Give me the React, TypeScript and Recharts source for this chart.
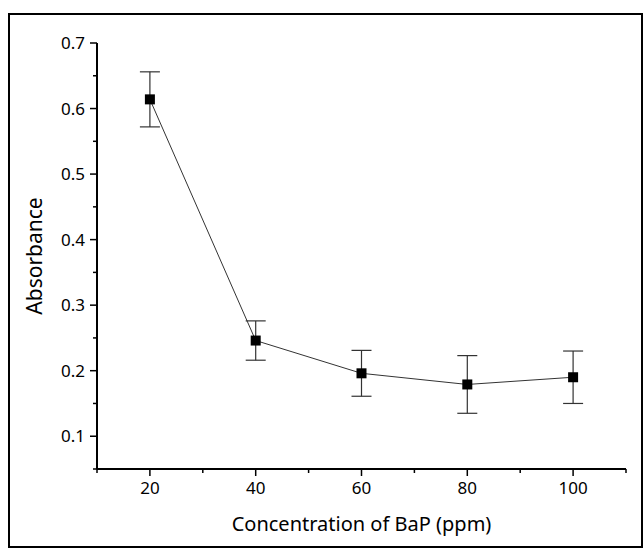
import { ComposedChart, Line, XAxis, YAxis, ErrorBar } from 'recharts';

const concentration = [20, 40, 60, 80, 100];
const absorbance = [0.614, 0.246, 0.196, 0.179, 0.19];
const absorbanceErr = [0.042, 0.03, 0.035, 0.044, 0.04];

const xMajor = [20, 40, 60, 80, 100];
const xTicks = [10, 20, 30, 40, 50, 60, 70, 80, 90, 100, 110];
const yMajor = [0.1, 0.2, 0.3, 0.4, 0.5, 0.6, 0.7];
const yTicks = [0.05, 0.1, 0.15, 0.2, 0.25, 0.3, 0.35, 0.4, 0.45, 0.5, 0.55, 0.6, 0.65, 0.7];

const data = concentration.map((c, i) => ({
  x: c,
  y: absorbance[i],
  err: absorbanceErr[i],
}));

const FONT = '"Noto Sans", "Open Sans", sans-serif';
const isMajor = (list: number[], v: number) => list.some((m) => Math.abs(m - v) < 1e-6);

const SquareDot = (props: any) => {
  const { cx, cy } = props;
  if (cx == null || cy == null) return null;
  return <rect x={cx - 5} y={cy - 5} width={10} height={10} fill="#000" />;
};

const XTick = (props: any) => {
  const { x, y, payload } = props;
  const major = isMajor(xMajor, payload.value);
  return (
    <g>
      <line x1={x} x2={x} y1={y} y2={y + (major ? 7 : 4)} stroke="#000" strokeWidth={1.5} />
      {major && (
        <text x={x} y={y + 25} textAnchor="middle" fill="#000" fontSize={17} fontFamily={FONT}>
          {payload.value}
        </text>
      )}
    </g>
  );
};

const YTick = (props: any) => {
  const { x, y, payload } = props;
  const major = isMajor(yMajor, payload.value);
  return (
    <g>
      <line x1={x} x2={x - (major ? 7 : 4)} y1={y} y2={y} stroke="#000" strokeWidth={1.5} />
      {major && (
        <text x={x - 12} y={y + 6} textAnchor="end" fill="#000" fontSize={17} fontFamily={FONT}>
          {payload.value.toFixed(1)}
        </text>
      )}
    </g>
  );
};

export default function App() {
  return (
    <div style={{ position: 'absolute', left: 0, top: 0, width: 643, height: 548, background: '#fff' }}>
      <div
        style={{
          position: 'absolute',
          left: 8,
          top: 13,
          width: 631,
          height: 531,
          border: '2px solid #000',
        }}
      />
      <div style={{ position: 'absolute', left: 0, top: 0 }}>
        <ComposedChart
          width={643}
          height={548}
          data={data}
          margin={{ top: 43, right: 17, bottom: 39, left: 37 }}
        >
          <XAxis
            xAxisId="main"
            dataKey="x"
            type="number"
            domain={[10, 110]}
            ticks={xTicks}
            interval={0}
            height={40}
            axisLine={{ stroke: '#000', strokeWidth: 2 }}
            tickLine={false}
            tickSize={0}
            tickMargin={0}
            tick={<XTick />}
            label={{
              value: 'Concentration of BaP (ppm)',
              position: 'bottom',
              offset: 8,
              fill: '#000',
              fontSize: 20,
              fontFamily: FONT,
            }}
          />
          <XAxis
            xAxisId="top"
            orientation="top"
            dataKey="x"
            type="number"
            domain={[10, 110]}
            height={0}
            axisLine={{ stroke: '#666', strokeWidth: 1 }}
            tick={false}
            tickLine={false}
          />
          <YAxis
            yAxisId="main"
            type="number"
            domain={[0.05, 0.7]}
            ticks={yTicks}
            interval={0}
            width={60}
            axisLine={{ stroke: '#000', strokeWidth: 2 }}
            tickLine={false}
            tickSize={0}
            tickMargin={0}
            tick={<YTick />}
            label={{
              value: 'Absorbance',
              angle: -90,
              position: 'center',
              dx: -32,
              fill: '#000',
              fontSize: 21,
              fontFamily: FONT,
            }}
          />
          <YAxis
            yAxisId="right"
            orientation="right"
            type="number"
            domain={[0.05, 0.7]}
            width={0}
            axisLine={{ stroke: '#666', strokeWidth: 1 }}
            tick={false}
            tickLine={false}
          />
          <Line
            xAxisId="main"
            yAxisId="main"
            dataKey="y"
            type="linear"
            stroke="#333"
            strokeWidth={1}
            dot={<SquareDot />}
            activeDot={false}
            isAnimationActive={false}
          >
            <ErrorBar dataKey="err" direction="y" width={10} stroke="#333" strokeWidth={1.2} />
          </Line>
        </ComposedChart>
      </div>
    </div>
  );
}
